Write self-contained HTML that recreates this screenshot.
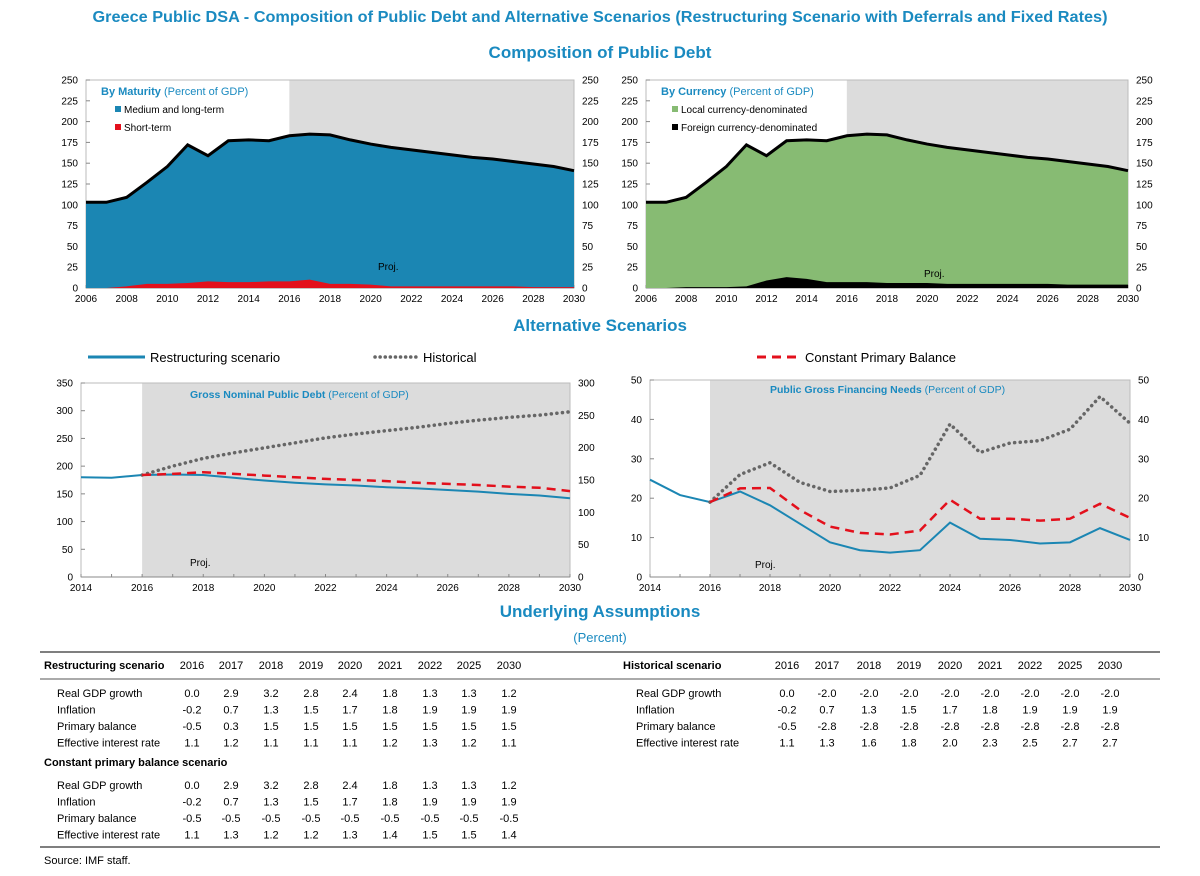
<!DOCTYPE html>
<html><head><meta charset="utf-8"><style>
body{margin:0;background:#fff;}
svg{display:block;font-family:"Liberation Sans",sans-serif;}
.t{fill:#000;font-size:10px}
.h{fill:#1a8ac0;font-weight:bold}
</style></head><body>
<svg id="s" width="1200" height="876" viewBox="0 0 1200 876">
<text class="h" x="600" y="22" font-size="16" text-anchor="middle" textLength="1015" lengthAdjust="spacingAndGlyphs">Greece Public DSA - Composition of Public Debt and Alternative Scenarios (Restructuring Scenario with Deferrals and Fixed Rates)</text>
<text class="h" x="600" y="58" font-size="17" text-anchor="middle">Composition of Public Debt</text>
<text class="h" x="600" y="331" font-size="17" text-anchor="middle">Alternative Scenarios</text>
<text class="h" x="600" y="617" font-size="17" text-anchor="middle">Underlying Assumptions</text>
<text x="600" y="642" font-size="13" fill="#1a8ac0" text-anchor="middle">(Percent)</text>
<g id="g"></g>
</svg>
<script>
// ---- data ----
const yearsA=[2006,2007,2008,2009,2010,2011,2012,2013,2014,2015,2016,2017,2018,2019,2020,2021,2022,2023,2024,2025,2026,2027,2028,2029,2030];
const totalDebt=[103,103,109,127,146,172,159,177,178,177,183,185,184,178,173,169,166,163,160,157,155,152,149,146,141];
const shortTerm=[0,0,2,5,5,6,8,7,7,8,8,10,5,5,4,2,2,2,2,2,2,2,1,1,1];
const foreignCur=[0,0,1,1,1,2,9,13,11,7,7,7,6,6,6,5,5,5,5,5,5,4,4,4,4];
const yearsB=[2014,2015,2016,2017,2018,2019,2020,2021,2022,2023,2024,2025,2026,2027,2028,2029,2030];
const debtRestr=[180,179,184,185,184,179,174,170,167,165,162,160,157,154,150,147,142];
const debtHist=[null,null,184,200,214,224,233,242,251,258,264,270,277,283,288,292,298];
const debtCPB=[null,null,184,186,189,186,183,180,177,175,173,170,168,166,163,161,155];
const gfnRestr=[24.7,20.8,19,21.7,18.2,13.5,8.8,6.8,6.2,6.8,13.8,9.7,9.4,8.5,8.8,12.4,9.4];
const gfnHist=[null,null,19,26,29,24,21.7,22,22.6,25.8,38.8,31.6,34,34.6,37.5,45.8,39];
const gfnCPB=[null,null,19,22.5,22.6,17,12.8,11.2,10.8,11.8,19.6,14.8,14.8,14.3,14.8,18.6,15];
const tblYears=["2016","2017","2018","2019","2020","2021","2022","2025","2030"];
const rsRows=[["Real GDP growth","0.0","2.9","3.2","2.8","2.4","1.8","1.3","1.3","1.2"],["Inflation","-0.2","0.7","1.3","1.5","1.7","1.8","1.9","1.9","1.9"],["Primary balance","-0.5","0.3","1.5","1.5","1.5","1.5","1.5","1.5","1.5"],["Effective interest rate","1.1","1.2","1.1","1.1","1.1","1.2","1.3","1.2","1.1"]];
const cpbRows=[["Real GDP growth","0.0","2.9","3.2","2.8","2.4","1.8","1.3","1.3","1.2"],["Inflation","-0.2","0.7","1.3","1.5","1.7","1.8","1.9","1.9","1.9"],["Primary balance","-0.5","-0.5","-0.5","-0.5","-0.5","-0.5","-0.5","-0.5","-0.5"],["Effective interest rate","1.1","1.3","1.2","1.2","1.3","1.4","1.5","1.5","1.4"]];
const hsRows=[["Real GDP growth","0.0","-2.0","-2.0","-2.0","-2.0","-2.0","-2.0","-2.0","-2.0"],["Inflation","-0.2","0.7","1.3","1.5","1.7","1.8","1.9","1.9","1.9"],["Primary balance","-0.5","-2.8","-2.8","-2.8","-2.8","-2.8","-2.8","-2.8","-2.8"],["Effective interest rate","1.1","1.3","1.6","1.8","2.0","2.3","2.5","2.7","2.7"]];

const NS="http://www.w3.org/2000/svg";
const G=document.getElementById('g');
function el(tag,attrs,parent,txt){const e=document.createElementNS(NS,tag);for(const k in attrs)e.setAttribute(k,attrs[k]);if(txt!==undefined)e.textContent=txt;(parent||G).appendChild(e);return e;}

function axes(cfg){
  const {x0,x1,y0,y1,xmin,xmax,ymax,ystep,rmax,rstep,xstep,name,shadeFrom}=cfg;
  const g=el('g',{});
  
  
  const X=v=>x0+(v-xmin)/(xmax-xmin)*(x1-x0);
  const Y=v=>y0-v/ymax*(y0-y1);
  const sh=el('rect',{x:X(shadeFrom),y:y1,width:x1-X(shadeFrom),height:y0-y1,fill:'#dcdcdc'},g);
  
  
  el('rect',{x:x0,y:y1,width:x1-x0,height:y0-y1,fill:'none',stroke:'#bbb','stroke-width':1},g);
  for(let v=0;v<=ymax;v+=ystep){const t=el('text',{class:'t',x:x0-8,y:Y(v)+3.5,'text-anchor':'end'},g,v);el('line',{x1:x0,x2:x0+4,y1:Y(v),y2:Y(v),stroke:'#888'},g);}
  for(let v=0;v<=rmax;v+=rstep){const yy=y0-v/rmax*(y0-y1);const t=el('text',{class:'t',x:x1+8,y:yy+3.5},g,v);}
  for(let v=xmin;v<=xmax;v+=xstep){const t=el('text',{class:'t',x:X(v),y:y0+14,'text-anchor':'middle'},g,v);}
  for(let v=xmin;v<=xmax;v++)el('line',{x1:X(v),x2:X(v),y1:y0,y2:y0-3,stroke:'#888'},g);
  el('line',{x1:x0,x2:x1,y1:y0,y2:y0,stroke:'#888'},g);
  return {g,X,Y};
}
function area(ax,xs,top,bot,fill,name){
  let d='';xs.forEach((x,i)=>d+=(i?'L':'M')+ax.X(x)+','+ax.Y(top[i]));
  for(let i=xs.length-1;i>=0;i--)d+='L'+ax.X(xs[i])+','+ax.Y(bot?bot[i]:0);
  const p=el('path',{d:d+'Z',fill:fill},ax.g);
}
function line(ax,xs,ys,attrs,name){
  let d='',s=true;xs.forEach((x,i)=>{if(ys[i]==null)return;d+=(s?'M':'L')+ax.X(x)+','+ax.Y(ys[i]);s=false;});
  const p=el('path',Object.assign({d:d,fill:'none'},attrs),ax.g);
}

// chart 1
let a=axes({x0:86,x1:574,y0:288,y1:80,xmin:2006,xmax:2030,ymax:250,ystep:25,rmax:250,rstep:25,xstep:2,name:'maturity-chart',shadeFrom:2016});
area(a,yearsA,totalDebt,null,'#1b86b3','medium-long-term-area');
area(a,yearsA,shortTerm,null,'#e3101c','short-term-area');
line(a,yearsA,totalDebt,{stroke:'#000','stroke-width':3},'total-debt-line');
el('text',{x:101,y:95,'font-size':11,fill:'#1a8ac0'},a.g).innerHTML='<tspan font-weight="bold">By Maturity</tspan> (Percent of GDP)';
el('rect',{x:115,y:106,width:6,height:6,fill:'#1b86b3'},a.g);el('text',{class:'t',x:124,y:113,'font-size':9},a.g,'Medium and long-term');
el('rect',{x:115,y:124,width:6,height:6,fill:'#e3101c'},a.g);el('text',{class:'t',x:124,y:131,'font-size':9},a.g,'Short-term');
el('text',{class:'t',x:378,y:270,'font-size':9},a.g,'Proj.');

// chart 2
a=axes({x0:646,x1:1128,y0:288,y1:80,xmin:2006,xmax:2030,ymax:250,ystep:25,rmax:250,rstep:25,xstep:2,name:'currency-chart',shadeFrom:2016});
area(a,yearsA,totalDebt,null,'#87bb73','local-currency-area');
area(a,yearsA,foreignCur,null,'#000','foreign-currency-area');
line(a,yearsA,totalDebt,{stroke:'#000','stroke-width':3},'total-debt-line');
el('text',{x:661,y:95,'font-size':11,fill:'#1a8ac0'},a.g).innerHTML='<tspan font-weight="bold">By Currency</tspan> (Percent of GDP)';
el('rect',{x:672,y:106,width:6,height:6,fill:'#87bb73'},a.g);el('text',{class:'t',x:681,y:113,'font-size':9},a.g,'Local currency-denominated');
el('rect',{x:672,y:124,width:6,height:6,fill:'#000'},a.g);el('text',{class:'t',x:681,y:131,'font-size':9},a.g,'Foreign currency-denominated');
el('text',{class:'t',x:924,y:277,'font-size':9},a.g,'Proj.');

// legend
const lg=el('g',{});
el('line',{x1:88,x2:145,y1:357,y2:357,stroke:'#1b86b3','stroke-width':3},lg);el('text',{x:150,y:362,'font-size':13},lg,'Restructuring scenario');
el('line',{x1:375,x2:418,y1:357,y2:357,stroke:'#666','stroke-width':3.5,'stroke-dasharray':'0.1 5','stroke-linecap':'round'},lg);el('text',{x:423,y:362,'font-size':13},lg,'Historical');
el('line',{x1:757,x2:802,y1:357,y2:357,stroke:'#e3101c','stroke-width':3,'stroke-dasharray':'9 6'},lg);el('text',{x:805,y:362,'font-size':13},lg,'Constant Primary Balance');

const stR={stroke:'#1b86b3','stroke-width':2},stH={stroke:'#666','stroke-width':3.5,'stroke-dasharray':'0.1 5.5','stroke-linecap':'round'},stC={stroke:'#e3101c','stroke-width':2.5,'stroke-dasharray':'9 6'};
a=axes({x0:81,x1:570,y0:577,y1:383,xmin:2014,xmax:2030,ymax:350,ystep:50,rmax:300,rstep:50,xstep:2,name:'gross-debt-chart',shadeFrom:2016});
line(a,yearsB,debtRestr,stR,'restructuring-line');line(a,yearsB,debtHist,stH,'historical-line');line(a,yearsB,debtCPB,stC,'constant-pb-line');
el('text',{x:190,y:398,'font-size':10.5,fill:'#1a8ac0'},a.g).innerHTML='<tspan font-weight="bold">Gross Nominal Public Debt</tspan> (Percent of GDP)';
el('text',{class:'t',x:190,y:566,'font-size':9},a.g,'Proj.');
a=axes({x0:650,x1:1130,y0:577,y1:380,xmin:2014,xmax:2030,ymax:50,ystep:10,rmax:50,rstep:10,xstep:2,name:'gfn-chart',shadeFrom:2016});
line(a,yearsB,gfnRestr,stR,'restructuring-line');line(a,yearsB,gfnHist,stH,'historical-line');line(a,yearsB,gfnCPB,stC,'constant-pb-line');
el('text',{x:770,y:393,'font-size':10.5,fill:'#1a8ac0'},a.g).innerHTML='<tspan font-weight="bold">Public Gross Financing Needs</tspan> (Percent of GDP)';
el('text',{class:'t',x:755,y:568,'font-size':9},a.g,'Proj.');

// table
const tb=el('g',{});
[652,679,847].forEach(y=>el('line',{x1:40,x2:1160,y1:y,y2:y,stroke:'#555','stroke-width':y==679?1:1.5},tb));
const colL=[192,231,271,311,350,390,430,469,509],colR=[787,827,869,909,950,990,1030,1070,1110];
function hdr(x,y,label,cols){el('text',{x:x,y:y,'font-size':11,'font-weight':'bold'},tb,label);tblYears.forEach((yr,i)=>el('text',{x:cols[i],y:y,'font-size':11,'text-anchor':'middle'},tb,yr));}
function rows(x,y0,data,cols){data.forEach((r,j)=>{const y=y0+j*16.5;el('text',{x:x,y:y,'font-size':11},tb,r[0]);r.slice(1).forEach((v,i)=>el('text',{x:cols[i],y:y,'font-size':11,'text-anchor':'middle'},tb,v));});}
hdr(44,669,'Restructuring scenario',colL);rows(57,697,rsRows,colL);
hdr(623,669,'Historical scenario',colR);rows(636,697,hsRows,colR);
el('text',{x:44,y:766,'font-size':11,'font-weight':'bold'},tb,'Constant primary balance scenario');
rows(57,789,cpbRows,colL);
el('text',{x:44,y:864,'font-size':11},tb,'Source: IMF staff.');
</script>
</body></html>
